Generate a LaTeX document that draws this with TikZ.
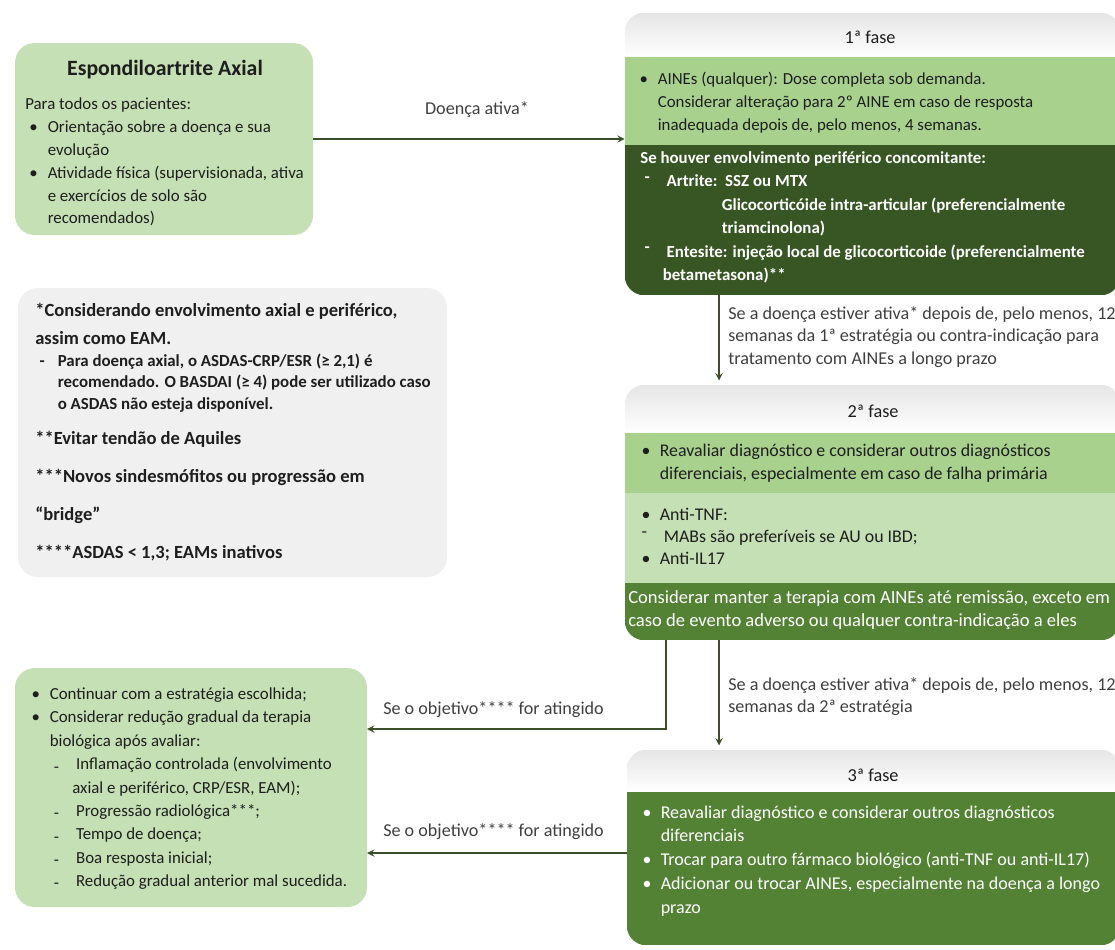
\documentclass[tikz,border=0pt]{standalone}
\usepackage{fontspec}
\setmainfont{Carlito}
\usetikzlibrary{fit}

\definecolor{verdeclaro}{HTML}{C5E0B4}
\definecolor{verdemedio}{HTML}{A9D18E}
\definecolor{verde}{HTML}{548235}
\definecolor{verdeescuro}{HTML}{375623}
\definecolor{cinza}{HTML}{F0F0F0}
\definecolor{linha}{HTML}{3B4F2B}
\definecolor{texto}{HTML}{1E1E1E}
\definecolor{rotulo}{HTML}{3F3F3F}

\newcommand{\bul}{\hspace*{3pt}\makebox[13pt][l]{\textbullet}}
\newcommand{\trc}[1][0ex]{\hspace*{3pt}\makebox[13pt][l]{\raisebox{#1}{-}}}
\newcommand{\ind}{\hspace*{16pt}}

\begin{document}
\begin{tikzpicture}[x=0.025cm, y=-0.025cm, >=stealth,
    caixa/.style={inner sep=0, rounded corners=14pt},
    texto/.style={inner sep=0, anchor=north west, align=left,
      font=\fontsize{12}{16.3}\selectfont, text=texto},
    maior/.style={texto, font=\fontsize{12.7}{16.3}\selectfont},
    negrito/.style={texto, font=\bfseries\fontsize{12}{16.6}\selectfont},
    legenda/.style={texto, text=rotulo, font=\fontsize{12.9}{16}\selectfont},
    cabecalho/.style={top color=black!10, bottom color=white},
    seta/.style={->, draw=linha, line width=1.3pt}]
  \useasboundingbox (0,0) rectangle (1115,949);

  \node[caixa, fill=verdeclaro, fit={(15,43) (313,235)}] (espa) {};
  \node[texto, font=\bfseries\fontsize{15.5}{18}\selectfont, anchor=center] (espa-titulo) at (165,70) {Espondiloartrite Axial};
  \node[texto] (espa-texto) at (25,93) {\strut Para todos os pacientes:\\
    \bul Orientação sobre a doença e sua\\ \ind evolução\\
    \bul Atividade física (supervisionada, ativa\\ \ind e exercícios de solo são\\ \ind recomendados)};

  \node[caixa, fill=cinza, fit={(18,288) (447,577)}] (notas) {};
  \node[texto, font=\bfseries\fontsize{13.2}{19.8}\selectfont] (notas-texto) at (35,297) {\strut *Considerando envolvimento axial e periférico,\\
    assim como EAM.};
  \node[texto, font=\bfseries\fontsize{12}{15.2}\selectfont] (notas-escala) at (35,351) {\strut\trc Para doença axial, o ASDAS-CRP/ESR (≥ 2,1) é\\
    \ind recomendado. O BASDAI (≥ 4) pode ser utilizado caso\\
    \ind o ASDAS não esteja disponível.};
  \node[texto, font=\bfseries\fontsize{13.2}{27}\selectfont] (notas-extra) at (35,418) {\strut **Evitar tendão de Aquiles\\
    ***Novos sindesmófitos ou progressão em\\
    “bridge”\\
    ****ASDAS < 1,3; EAMs inativos};

  \node[caixa, fill=verdeclaro, fit={(15,668) (367,907)}] (meta) {};
  \node[texto, font=\fontsize{12}{16.6}\selectfont] (meta-texto) at (27,683) {\strut\bul Continuar com a estratégia escolhida;\\
    \bul Considerar redução gradual da terapia\\ \ind biológica após avaliar:\\
    \ind\trc[-.3ex] Inflamação controlada (envolvimento\\ \ind\ind axial e periférico, CRP/ESR, EAM);\\
    \ind\trc[-.3ex] Progressão radiológica***;\\
    \ind\trc[-.3ex] Tempo de doença;\\
    \ind\trc[-.3ex] Boa resposta inicial;\\
    \ind\trc[-.3ex] Redução gradual anterior mal sucedida.};

  \node[caixa, fit={(625,13) (1120,295)}] (fase1) {};
  \begin{scope}
    \clip[rounded corners=14pt] (fase1.north west) rectangle (fase1.south east);
    \shade[cabecalho] (625,13) rectangle (1120,57);
    \fill[verdemedio] (625,57) rectangle (1120,145);
    \fill[verdeescuro] (625,145) rectangle (1120,295);
  \end{scope}
  \node[texto, font=\fontsize{13}{16}\selectfont, anchor=center] (fase1-titulo) at (870,37) {1ª fase};
  \node[texto] (fase1-aines) at (635,68) {\strut\bul AINEs (qualquer): Dose completa sob demanda.\\
    \ind Considerar alteração para 2º AINE em caso de resposta\\
    \ind inadequada depois de, pelo menos, 4 semanas.};
  \node[negrito, text=white] (fase1-periferico) at (640,147) {\strut Se houver envolvimento periférico concomitante:\\
    \trc[.6ex] Artrite:\ \ SSZ ou MTX\\
    \hspace*{58pt}Glicocorticóide intra-articular (preferencialmente\\
    \hspace*{58pt}triamcinolona)\\
    \trc[.6ex] Entesite: injeção local de glicocorticoide (preferencialmente\\
    \ind betametasona)**};

  \node[caixa, fit={(625,385) (1120,640)}] (fase2) {};
  \begin{scope}
    \clip[rounded corners=14pt] (fase2.north west) rectangle (fase2.south east);
    \shade[cabecalho] (625,385) rectangle (1120,433);
    \fill[verdemedio] (625,433) rectangle (1120,493);
    \fill[verdeclaro] (625,493) rectangle (1120,583);
    \fill[verde] (625,583) rectangle (1120,640);
  \end{scope}
  \node[texto, font=\fontsize{13}{16}\selectfont, anchor=center] (fase2-titulo) at (873,411) {2ª fase};
  \node[maior] (fase2-reavaliar) at (637,440) {\strut\bul Reavaliar diagnóstico e considerar outros diagnósticos\\
    \ind diferenciais, especialmente em caso de falha primária};
  \node[maior, font=\fontsize{12.7}{15.5}\selectfont] (fase2-biologicos) at (637,505) {\strut\bul Anti-TNF:\\
    \trc[.6ex] MABs são preferíveis se AU ou IBD;\\
    \bul Anti-IL17};
  \node[texto, text=white, font=\fontsize{13.2}{16.3}\selectfont] (fase2-manter) at (628,587) {\strut Considerar manter a terapia com AINEs até remissão, exceto em\\
    caso de evento adverso ou qualquer contra-indicação a eles};

  \node[caixa, fit={(627,750) (1120,945)}] (fase3) {};
  \begin{scope}
    \clip[rounded corners=14pt] (fase3.north west) rectangle (fase3.south east);
    \shade[cabecalho] (627,750) rectangle (1120,792);
    \fill[verde] (627,792) rectangle (1120,945);
  \end{scope}
  \node[texto, font=\fontsize{13}{16}\selectfont, anchor=center] (fase3-titulo) at (873,775) {3ª fase};
  \node[maior, text=white, font=\fontsize{12.8}{17}\selectfont] (fase3-texto) at (638,801) {\strut\bul Reavaliar diagnóstico e considerar outros diagnósticos\\
    \ind diferenciais\\
    \bul Trocar para outro fármaco biológico (anti-TNF ou anti-IL17)\\
    \bul Adicionar ou trocar AINEs, especialmente na doença a longo\\
    \ind prazo};

  \node[legenda, anchor=center] (rotulo-ativa) at (477,110) {Doença ativa*};
  \node[legenda] (rotulo-fase1) at (728,303) {\strut Se a doença estiver ativa* depois de, pelo menos, 12\\
    semanas da 1ª estratégia ou contra-indicação para\\
    tratamento com AINEs a longo prazo};
  \node[legenda] (rotulo-fase2) at (728,674) {\strut Se a doença estiver ativa* depois de, pelo menos, 12\\
    semanas da 2ª estratégia};
  \node[legenda, anchor=west] (rotulo-meta1) at (383,710) {Se o objetivo**** for atingido};
  \node[legenda, anchor=west] (rotulo-meta2) at (383,832) {Se o objetivo**** for atingido};

  \coordinate (eixo-fases) at (719,0);
  \coordinate (eixo-meta) at (666,0);
  \coordinate (meta-seta1) at (367,729);
  \coordinate (meta-seta2) at (367,853);

  \draw[seta] (espa.east) -- (espa.east -| fase1.west);
  \draw[seta] (fase1.south -| eixo-fases) -- ([yshift=3pt]fase2.north -| eixo-fases);
  \draw[seta] (fase2.south -| eixo-fases) -- ([yshift=3pt]fase3.north -| eixo-fases);
  \draw[seta] (fase2.south -| eixo-meta) |- (meta-seta1);
  \draw[seta] (fase3.west |- meta-seta2) -- (meta-seta2);
\end{tikzpicture}
\end{document}
